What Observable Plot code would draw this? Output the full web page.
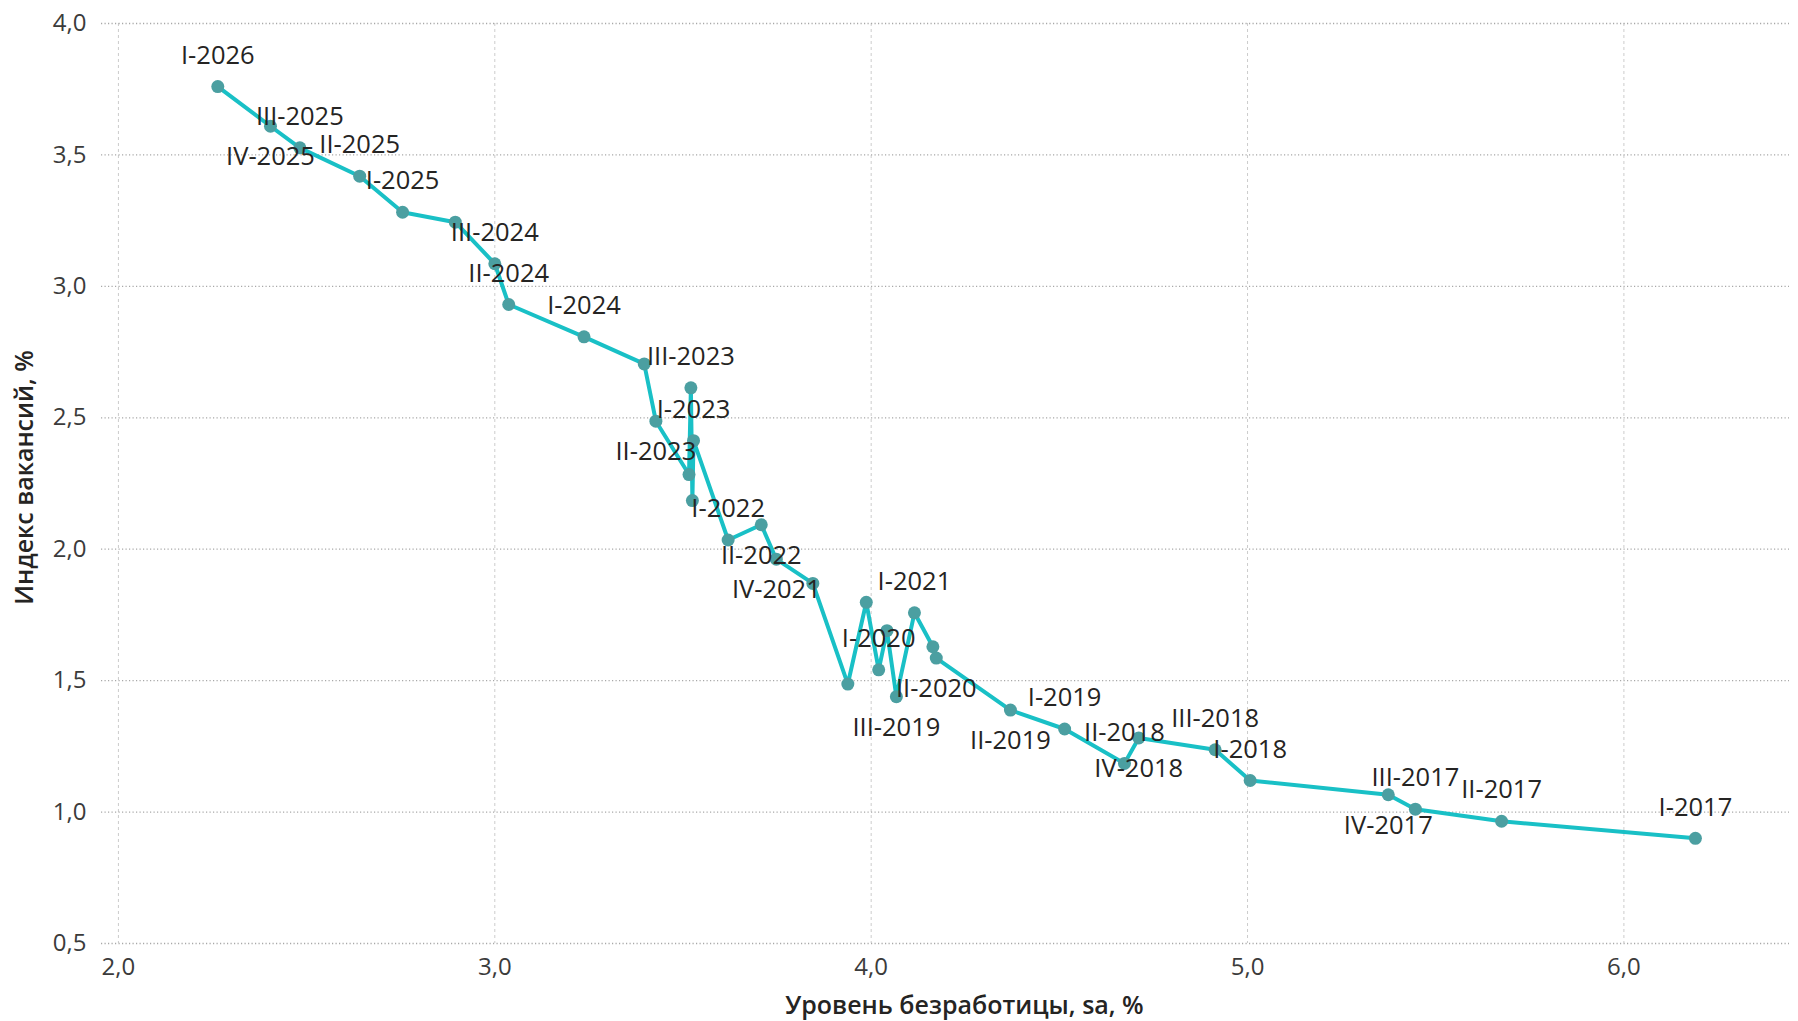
<!DOCTYPE html>
<html>
<head>
<meta charset="utf-8">
<script src="https://cdn.jsdelivr.net/npm/d3@7"></script>
<script src="https://cdn.jsdelivr.net/npm/@observablehq/plot@0.6"></script>
<style>
  html, body { margin: 0; padding: 0; background: #ffffff; }
  #chart { width: 1798px; height: 1021px; }
</style>
</head>
<body>
<div id="chart"></div>
<script>
// ---- data ----
const quarters = [
  "I-2017","II-2017","III-2017","IV-2017",
  "I-2018","II-2018","III-2018","IV-2018",
  "I-2019","II-2019","III-2019","IV-2019",
  "I-2020","II-2020","III-2020","IV-2020",
  "I-2021","II-2021","III-2021","IV-2021",
  "I-2022","II-2022","III-2022","IV-2022",
  "I-2023","II-2023","III-2023","IV-2023",
  "I-2024","II-2024","III-2024","IV-2024",
  "I-2025","II-2025","III-2025","IV-2025",
  "I-2026"
];
const unemployment = [
  6.190, 5.675, 5.446, 5.374,
  5.007, 4.673, 4.914, 4.711,
  4.514, 4.370, 4.067, 4.042,
  4.020, 4.173, 4.164, 3.987,
  4.115, 3.938, 3.845, 3.748,
  3.620, 3.708, 3.525, 3.516,
  3.528, 3.428, 3.521, 3.397,
  3.237, 3.037, 3.000, 2.895,
  2.755, 2.641, 2.482, 2.404,
  2.264
];
const vacancyIndex = [
  0.900, 0.965, 1.011, 1.066,
  1.120, 1.185, 1.237, 1.282,
  1.316, 1.388, 1.439, 1.690,
  1.541, 1.586, 1.629, 1.798,
  1.758, 1.487, 1.870, 1.962,
  2.035, 2.093, 2.185, 2.284,
  2.413, 2.487, 2.614, 2.705,
  2.808, 2.931, 3.086, 3.244,
  3.282, 3.419, 3.527, 3.609,
  3.760
];
// data labels that are visible in the reference
const labelsAbove = [
  "I-2017","II-2017","III-2017","I-2018","II-2018","III-2018","I-2019",
  "I-2020","I-2021","I-2022","I-2023","III-2023","I-2024","II-2024",
  "III-2024","I-2025","II-2025","III-2025","I-2026"
];
const labelsBelow = [
  "IV-2017","IV-2018","II-2019","III-2019","II-2020","IV-2021",
  "II-2022","II-2023","IV-2025"
];
const xTicks = [2, 3, 4, 5, 6];
const yTicks = [0.5, 1, 1.5, 2, 2.5, 3, 3.5, 4];
const xTitle = "Уровень безработицы, sa, %";
const yTitle = "Индекс вакансий, %";

// ---- build table ----
const rows = quarters.map((q, i) => ({q, x: unemployment[i], y: vacancyIndex[i]}));
const lineRows = d3.sort(rows, d => d.x);
const aboveRows = rows.filter(d => labelsAbove.includes(d.q));
const belowRows = rows.filter(d => labelsBelow.includes(d.q));
const fmt = d => d.toFixed(1).replace(".", ",");

const font = "'Open Sans', 'Noto Sans', sans-serif";
const lineColor = "#19C0C6";
const dotColor = "#4B9FA1";
const textColor = "#252423";

const chart = Plot.plot({
  width: 1798,
  height: 1021,
  marginLeft: 101,
  marginRight: 9,
  marginTop: 23,
  marginBottom: 78,
  style: {fontFamily: font, background: "#ffffff", overflow: "visible"},
  x: {domain: [1.955, 6.44], label: null},
  y: {domain: [0.5, 4], label: null},
  marks: [
    Plot.gridX(xTicks, {stroke: "#cccccc", strokeOpacity: 1, strokeDasharray: "3,3", strokeWidth: 1}),
    Plot.gridY(yTicks, {stroke: "#a8a8a8", strokeOpacity: 1, strokeDasharray: "1.2,2.3", strokeWidth: 1.3}),
    Plot.axisX(xTicks, {tickSize: 0, tickPadding: 14, tickFormat: fmt, fontSize: 24, fill: "#3b3b3b", label: null}),
    Plot.axisY(yTicks, {tickSize: 0, tickPadding: 15, tickFormat: fmt, fontSize: 24, fill: "#3b3b3b", label: null}),
    Plot.line(lineRows, {x: "x", y: "y", stroke: lineColor, strokeWidth: 4, curve: "linear"}),
    Plot.dot(rows, {x: "x", y: "y", r: 6.5, fill: dotColor, stroke: "none"}),
    Plot.text(aboveRows, {x: "x", y: "y", text: "q", dy: -31, fontSize: 25.5, fill: textColor}),
    Plot.text(belowRows, {x: "x", y: "y", text: "q", dy: 31, fontSize: 25.5, fill: textColor}),
    Plot.text([xTitle], {frameAnchor: "bottom", textAnchor: "middle", lineAnchor: "middle", dx: 19, dy: 62, fontSize: 25, fontWeight: 600, fill: textColor}),
    Plot.text([yTitle], {frameAnchor: "left", textAnchor: "middle", lineAnchor: "middle", rotate: -90, dx: -77, dy: -6, fontSize: 25, fontWeight: 600, fill: textColor})
  ]
});
document.getElementById("chart").appendChild(chart);
</script>
</body>
</html>
